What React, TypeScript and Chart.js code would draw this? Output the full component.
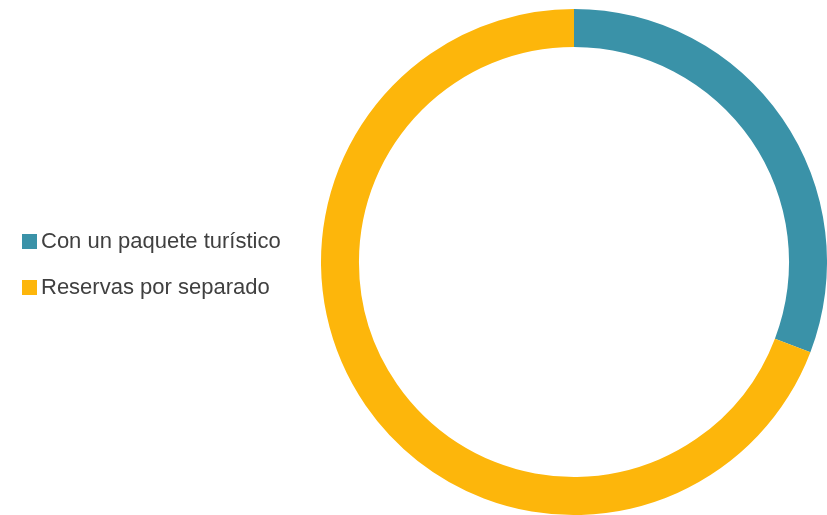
import React, { useEffect, useRef } from "react";
import { Chart, registerables } from "chart.js";

Chart.register(...registerables);

const categories = ["Con un paquete turístico", "Reservas por separado"];
const values = [30.8, 69.2];
const colors = ["#3A92A8", "#FDB60B"];

export default function App() {
  const ref = useRef<HTMLCanvasElement | null>(null);
  useEffect(() => {
    if (!ref.current) return;
    const chart = new Chart(ref.current, {
      type: "doughnut",
      data: {
        labels: categories,
        datasets: [
          {
            data: values,
            backgroundColor: colors,
            borderWidth: 0,
          },
        ],
      },
      options: {
        responsive: false,
        animation: false,
        cutout: "85%",
        layout: { padding: { left: 321, top: 9, right: 0, bottom: 0 } },
        plugins: { legend: { display: false }, tooltip: { enabled: false } },
      },
    });
    return () => chart.destroy();
  }, []);
  return (
    <div style={{ position: "fixed", left: 0, top: 0, width: 827, height: 515, background: "#fff" }}>
      <canvas ref={ref} width={827} height={515} style={{ position: "absolute", left: 0, top: 0 }} />
      <div style={{ position: "absolute", left: 22, top: 228, fontFamily: "'Liberation Sans', Arial, sans-serif", fontSize: 22, color: "#404040" }}>
        {categories.map((c, i) => (
          <div key={c} style={{ display: "flex", alignItems: "center", height: 26, marginBottom: 20 }}>
            <span style={{ display: "inline-block", width: 15, height: 15, background: colors[i], marginRight: 4, marginTop: 1 }} />
            <span>{c}</span>
          </div>
        ))}
      </div>
    </div>
  );
}
